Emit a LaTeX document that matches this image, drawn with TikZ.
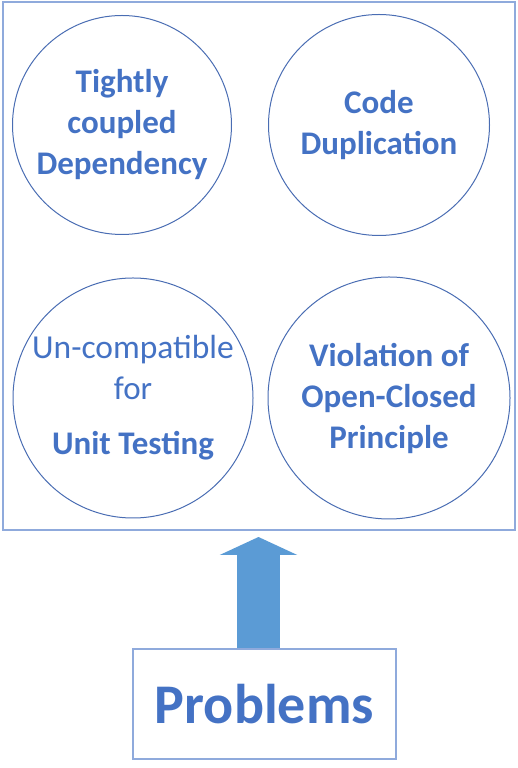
\documentclass[tikz,border=0pt]{standalone}
\usepackage{fontspec}
\setmainfont{Carlito}
\usetikzlibrary{arrows.meta,positioning}
\definecolor{prtext}{HTML}{4472C4}
\definecolor{prline}{HTML}{4A6DB3}
\definecolor{prframe}{HTML}{8FAADC}
\definecolor{prarrow}{HTML}{5B9BD5}
\begin{document}
\begin{tikzpicture}[x=1pt,y=1pt,
      every node/.style={font=\fontsize{33}{41}\selectfont,text=prtext},
      issue/.style={draw=prline,line width=1pt,circle,inner sep=0pt,align=center},
      frame/.style={draw=prframe,line width=1.8pt,inner sep=0pt}]
    \useasboundingbox (0,0) rectangle (517,768);
    % Outer frame
    \node[frame,minimum width=512,minimum height=528] (box) at (259,502) {};
    % Problem circles
    \node[issue,minimum size=219] (tight) at (122,643) {\textbf{Tightly}\\\textbf{coupled}\\\textbf{Dependency}};
    \node[issue,minimum size=221] (dup)   at (379,643) {\textbf{Code}\\\textbf{Duplication}};
    \node[issue,minimum size=240] (unit)  at (133,370) {\fontsize{33.5}{35}\selectfont Un-compatible\\for\\[14pt]\textbf{Unit Testing}};
    \node[issue,minimum size=242] (ocp)   at (389,370) {\textbf{Violation of}\\\textbf{Open-Closed}\\\textbf{Principle}};
    % Problems label
    \node[frame,minimum width=263,minimum height=110,font=\fontsize{56}{64}\selectfont\bfseries] (probs) at (264.5,64) {Problems};
    \coordinate (tip) at (258.5,231);
    \draw[prarrow,line width=43pt,-{Triangle[width=77pt,length=18pt]}] (tip |- probs.north) -- (tip);
  \end{tikzpicture}
\end{document}
